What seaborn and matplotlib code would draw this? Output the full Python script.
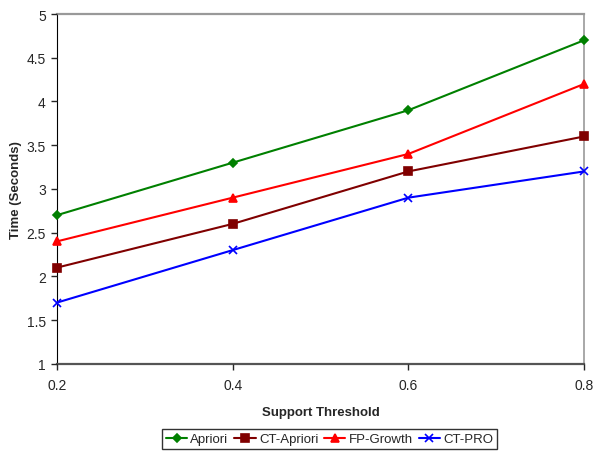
import seaborn as sns
import matplotlib.pyplot as plt
import pandas as pd

# support thresholds and run times
support = [0.2, 0.4, 0.6, 0.8]
apriori = [2.7, 3.3, 3.9, 4.7]
ct_apriori = [2.1, 2.6, 3.2, 3.6]
fp_growth = [2.4, 2.9, 3.4, 4.2]
ct_pro = [1.7, 2.3, 2.9, 3.2]

algos = ["Apriori", "CT-Apriori", "FP-Growth", "CT-PRO"]
colors = ["#008000", "#800000", "#ff0000", "#0000ff"]
markers = ["D", "s", "^", "x"]

df = pd.DataFrame({
    "Support": support * 4,
    "Time": apriori + ct_apriori + fp_growth + ct_pro,
    "Algorithm": sum([[a] * len(support) for a in algos], []),
})

sns.set_style("white")
plt.rcParams['font.family'] = ['Liberation Sans', 'DejaVu Sans']

fig = plt.figure(figsize=(6.03, 4.56), dpi=100)
ax = fig.add_axes([0.0945, 0.2, 0.874, 0.767])

# one call per series, marker types differ (filled vs line art)
for algo, c, m in zip(algos, colors, markers):
    sub = df[df["Algorithm"] == algo]
    sns.lineplot(data=sub, x="Support", y="Time", color=c, marker=m,
                 markersize=6 if m != "D" else 4.5, markeredgecolor=c,
                 markeredgewidth=1.2, linewidth=1.5, label=algo, ax=ax)

ax.set_xlim(0.2, 0.8)
ax.set_ylim(1, 5)
ax.set_xticks(support)
ax.set_xticklabels(["0.2", "0.4", "0.6", "0.8"])
ax.set_yticks([1, 1.5, 2, 2.5, 3, 3.5, 4, 4.5, 5])
ax.set_yticklabels(["1", "1.5", "2", "2.5", "3", "3.5", "4", "4.5", "5"])
ax.tick_params(axis='both', direction='out', length=4, width=1, labelsize=10,
               bottom=True, left=True, pad=4)
ax.tick_params(axis='x', pad=6)

ax.spines['left'].set_color('black')
ax.spines['bottom'].set_color('#555555')
ax.spines['bottom'].set_linewidth(1.6)
ax.spines['top'].set_color('#999999')
ax.spines['right'].set_color('#999999')
ax.spines['top'].set_linewidth(1.6)
ax.spines['right'].set_linewidth(1.2)
for sp in ax.spines.values():
    sp.set_zorder(0.5)

ax.set_xlabel("Support Threshold", fontsize=9.5, fontweight='bold', labelpad=10)
ax.set_ylabel("Time (Seconds)", fontsize=9.5, fontweight='bold', labelpad=3)

handles, labels = ax.get_legend_handles_labels()
ax.legend(handles, labels, loc='center', bbox_to_anchor=(0.5465, 0.035),
          bbox_transform=fig.transFigure, ncol=4, frameon=True, fancybox=False,
          edgecolor='black', fontsize=9.5, handlelength=1.6, handletextpad=0.25,
          columnspacing=0.45, borderpad=0.3, markerscale=0.85)
for line in ax.lines:
    line.set_clip_on(False)

fig.savefig("out.png", dpi=100)
